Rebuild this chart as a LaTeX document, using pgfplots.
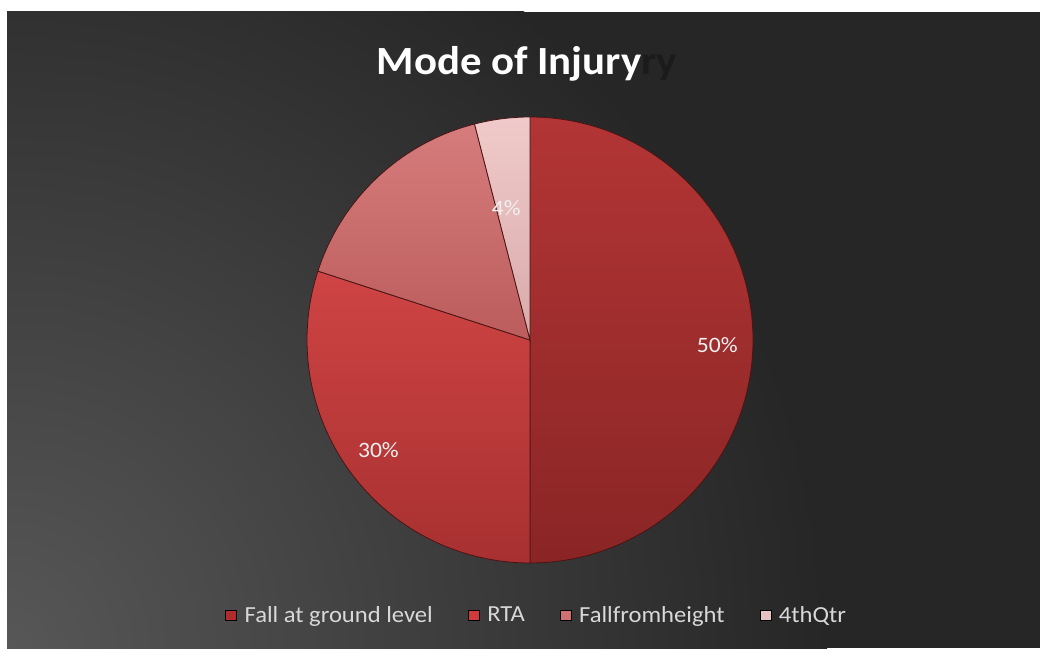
\documentclass[border=0pt]{standalone}
\usepackage{pgfplots}
\pgfplotsset{compat=1.18}
\usetikzlibrary{calc}
\usepackage{fontspec}
\setmainfont[FakeStretch=1.07]{Carlito}
\definecolor{bg}{HTML}{262626}
\definecolor{bglight}{HTML}{575757}
\definecolor{shadowc}{HTML}{1B1B1B}
\definecolor{legtext}{HTML}{D8D8D8}
\definecolor{pieedge}{HTML}{4A1414}
\definecolor{c1t}{HTML}{B33535}
\definecolor{c1b}{HTML}{8A2525}
\definecolor{c2t}{HTML}{CF4444}
\definecolor{c2b}{HTML}{A83030}
\definecolor{c3t}{HTML}{D67C7C}
\definecolor{c3b}{HTML}{BC5C5C}
\definecolor{c4t}{HTML}{F0CACA}
\definecolor{c4b}{HTML}{D9AAAA}
\definecolor{c1}{HTML}{B02C2C}
\definecolor{c2}{HTML}{D03A3A}
\definecolor{c3}{HTML}{D07070}
\definecolor{c4}{HTML}{E6C4C4}
\begin{document}
\begin{tikzpicture}
\useasboundingbox (0,0) rectangle (1040pt,648pt);
\fill[white] (0,0) rectangle (1040pt,648pt);
\begin{scope}
\clip (7pt,0) rectangle (1040pt,636pt);
\fill[bg] (7pt,0) rectangle (1040pt,636pt);
\shade[inner color=bglight, outer color=bg] (7pt,0) circle (820pt);
\end{scope}
\begin{axis}[
  x=1pt, y=1pt, xmin=0, xmax=1040, ymin=0, ymax=648,
  hide axis, clip=false, at={(0,0)}, anchor=south west,
  legend columns=4,
  legend style={at={(axis cs:225,33)}, anchor=west, draw=none, fill=none,
    inner xsep=0pt,
    text=legtext, font=\fontsize{23}{26}\selectfont,
    /tikz/every odd column/.append style={column sep=6pt},
    /tikz/every even column/.append style={column sep=33pt}},
  legend image code/.code={\fill[#1] (0pt,-5pt) rectangle (11pt,5pt);},
]
\addlegendimage{fill=c1}\addlegendentry{Fall at ground level}
\addlegendimage{fill=c2}\addlegendentry{RTA}
\addlegendimage{fill=c3}\addlegendentry{Fallfromheight}
\addlegendimage{fill=c4}\addlegendentry{4thQtr}
\pgfplotsextra{
  \gdef\startang{90}
  \foreach \v/\ct/\cb/\lab/\lr/\la in {50/c1t/c1b/{50\%}/0.84/-1.5, 30/c2t/c2b/{30\%}/0.84/0, 16/c3t/c3b/{}/0.7/0, 4/c4t/c4b/{4\%}/0.6/3}{
    \pgfmathsetmacro\endang{\startang-3.6*\v}
    \pgfmathsetmacro\midang{(\startang+\endang)/2+\la}
    \shadedraw[top color=\ct, bottom color=\cb, draw=pieedge, line width=0.8pt]
      (axis cs:530,308) -- ++(\startang:223pt)
      arc[start angle=\startang, end angle=\endang, radius=223pt] -- cycle;
    \node[text=white!94!black, font=\fontsize{22}{26}\selectfont]
      at ($(axis cs:530,308)+(\midang:{\lr*223pt})$) {\lab};
    \xdef\startang{\endang}
  }
}
\node[text=shadowc, font=\fontsize{40}{48}\selectfont\bfseries, anchor=base west, inner sep=0pt] at (axis cs:641,573) {ry};
\node[text=white, font=\fontsize{40}{48}\selectfont\bfseries, anchor=base] at (axis cs:509,573) {Mode of Injury};
\end{axis}
\end{tikzpicture}
\end{document}
